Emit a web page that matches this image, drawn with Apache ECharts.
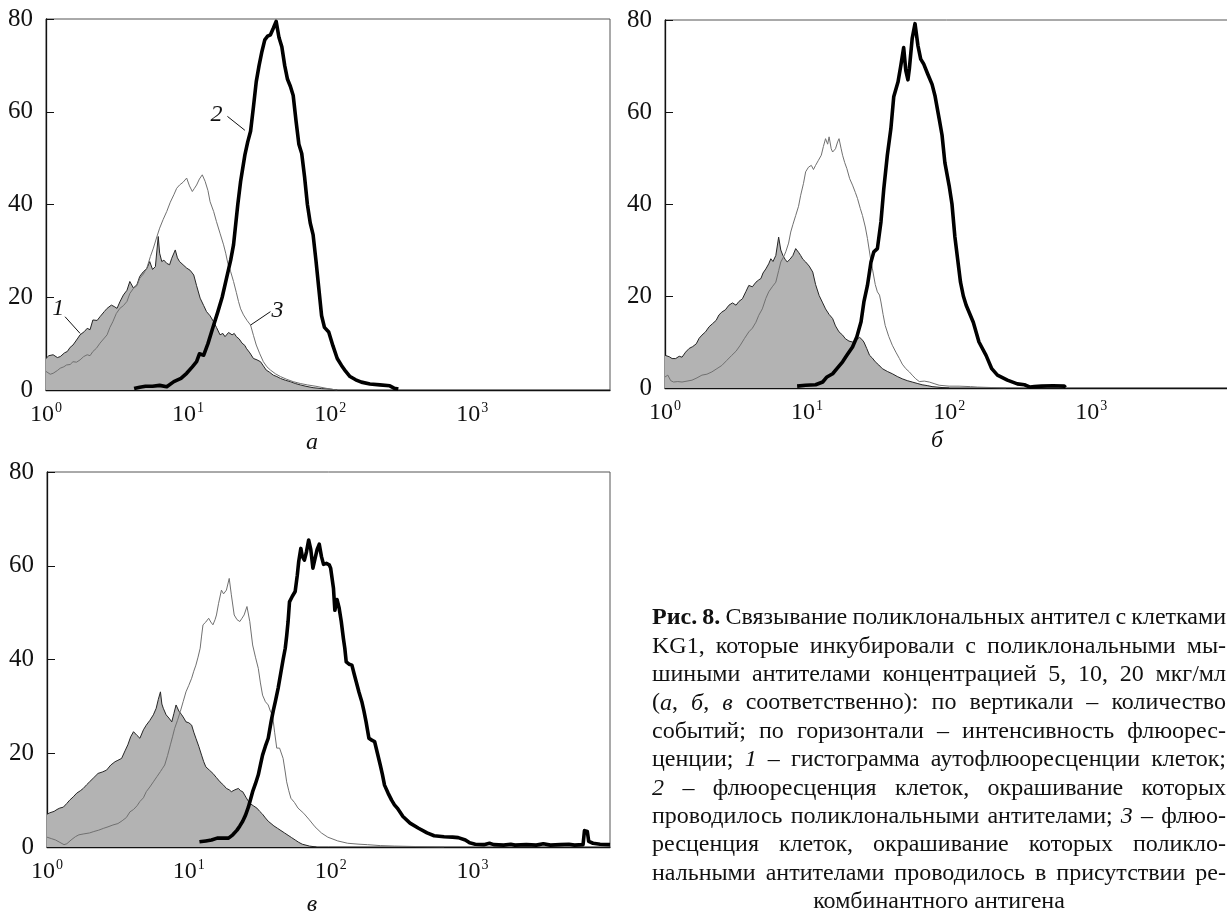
<!DOCTYPE html>
<html><head><meta charset="utf-8">
<script src="https://cdn.jsdelivr.net/npm/echarts/dist/echarts.min.js"></script>
<style>html,body{margin:0;padding:0;background:#fff;}#c{width:1227px;height:914px;}</style>
</head><body><div id="c"></div>
<script>
// x = log10(fluorescence intensity), y = number of events
const aAuto = [[0.00,6.8],[0.02,7.4],[0.05,7.6],[0.08,7.0],[0.10,7.2],[0.13,8.0],[0.15,8.3],[0.17,9.2],[0.19,9.7],[0.22,11.0],[0.24,11.9],[0.27,12.6],[0.29,13.3],[0.31,13.0],[0.33,15.1],[0.36,15.0],[0.38,15.8],[0.41,16.9],[0.43,17.6],[0.46,18.3],[0.48,18.0],[0.50,17.6],[0.52,19.0],[0.545,20.5],[0.57,21.5],[0.59,23.4],[0.615,22.0],[0.64,22.7],[0.66,24.5],[0.685,25.5],[0.71,26.2],[0.73,27.7],[0.75,26.0],[0.77,26.6],[0.79,33.1],[0.80,29.5],[0.815,27.7],[0.83,28.0],[0.85,27.3],[0.87,27.0],[0.885,28.4],[0.91,30.2],[0.925,28.5],[0.94,27.7],[0.965,27.0],[0.99,26.3],[1.015,25.8],[1.04,24.8],[1.06,22.5],[1.085,19.8],[1.11,18.2],[1.13,16.9],[1.155,16.0],[1.18,14.7],[1.20,13.5],[1.225,11.9],[1.245,12.2],[1.26,11.5],[1.285,12.4],[1.31,11.9],[1.325,12.2],[1.34,11.5],[1.36,11.0],[1.38,10.1],[1.40,9.6],[1.41,9.0],[1.435,8.0],[1.46,6.8],[1.485,6.5],[1.51,6.1],[1.53,5.2],[1.55,4.3],[1.575,3.8],[1.60,3.2],[1.625,2.9],[1.65,2.5],[1.685,2.1],[1.72,1.8],[1.755,1.4],[1.79,1.1],[1.83,0.8],[1.88,0.5],[1.94,0.3],[2.00,0.2],[2.05,0]];
const aStain = [[0.62,0.3],[0.66,0.6],[0.70,0.8],[0.75,0.8],[0.80,1.0],[0.85,0.7],[0.90,1.8],[0.95,2.5],[0.99,3.6],[1.03,5.0],[1.06,6.1],[1.08,7.8],[1.11,7.5],[1.14,10.0],[1.17,13.0],[1.21,16.9],[1.24,20.0],[1.27,24.0],[1.30,28.0],[1.32,31.3],[1.35,40.0],[1.37,45.0],[1.40,50.7],[1.42,53.5],[1.44,55.8],[1.46,61.0],[1.48,66.5],[1.50,70.0],[1.52,73.0],[1.54,75.5],[1.56,76.3],[1.58,76.6],[1.60,78.0],[1.62,79.5],[1.64,76.0],[1.66,74.0],[1.68,70.0],[1.70,67.0],[1.72,65.5],[1.74,63.5],[1.76,58.0],[1.78,53.0],[1.80,51.0],[1.82,46.0],[1.84,40.0],[1.86,36.0],[1.88,33.5],[1.90,28.0],[1.92,22.0],[1.94,16.0],[1.96,13.5],[1.99,12.5],[2.02,9.5],[2.05,6.8],[2.08,5.3],[2.11,4.0],[2.14,2.9],[2.18,2.2],[2.22,1.7],[2.28,1.3],[2.35,1.1],[2.42,0.9],[2.45,0.4],[2.48,0.2]];
const aAnti = [[0.00,4.0],[0.03,3.4],[0.05,3.6],[0.08,4.2],[0.10,4.7],[0.125,5.0],[0.145,5.4],[0.17,5.5],[0.19,6.1],[0.215,6.0],[0.24,6.5],[0.265,7.2],[0.29,7.6],[0.31,7.4],[0.33,8.3],[0.355,9.0],[0.38,10.1],[0.405,11.0],[0.43,11.9],[0.45,13.5],[0.47,14.7],[0.495,16.5],[0.52,17.6],[0.545,18.2],[0.57,19.1],[0.59,20.8],[0.615,21.9],[0.64,22.5],[0.66,24.1],[0.685,25.0],[0.71,26.3],[0.735,28.8],[0.756,30.6],[0.78,33.0],[0.80,34.9],[0.825,36.8],[0.85,38.5],[0.875,40.5],[0.90,42.1],[0.92,43.5],[0.94,44.2],[0.965,44.8],[0.99,45.7],[1.01,44.0],[1.03,42.8],[1.045,43.5],[1.06,44.2],[1.08,45.5],[1.10,46.4],[1.12,45.0],[1.14,43.0],[1.155,40.6],[1.18,38.5],[1.20,36.3],[1.225,33.8],[1.25,31.3],[1.265,29.5],[1.28,27.3],[1.30,25.5],[1.32,23.4],[1.34,21.0],[1.355,19.1],[1.37,17.5],[1.39,16.2],[1.415,15.0],[1.44,14.0],[1.46,11.8],[1.48,9.7],[1.505,7.8],[1.53,6.1],[1.555,5.0],[1.58,4.3],[1.615,3.5],[1.65,2.9],[1.695,2.3],[1.74,1.8],[1.79,1.4],[1.84,1.1],[1.90,0.8],[1.95,0.5],[2.00,0.2],[2.05,0]];

const bAuto = [[0.00,7.1],[0.03,6.8],[0.05,6.4],[0.075,6.4],[0.10,6.9],[0.12,6.7],[0.145,7.8],[0.17,8.6],[0.195,9.0],[0.22,9.6],[0.24,10.8],[0.26,11.5],[0.285,12.2],[0.31,13.3],[0.335,14.0],[0.36,14.7],[0.38,15.9],[0.40,16.5],[0.425,17.0],[0.45,18.0],[0.475,18.5],[0.50,18.0],[0.52,18.8],[0.545,19.4],[0.57,21.0],[0.59,22.3],[0.615,22.0],[0.64,23.0],[0.66,23.5],[0.675,23.8],[0.69,25.0],[0.71,25.9],[0.73,27.0],[0.745,28.1],[0.76,27.5],[0.78,28.8],[0.80,32.8],[0.815,30.0],[0.83,28.8],[0.845,28.0],[0.86,27.4],[0.88,28.0],[0.90,28.8],[0.92,30.3],[0.94,29.5],[0.955,28.8],[0.97,28.0],[0.99,27.4],[1.015,26.5],[1.04,25.2],[1.06,22.5],[1.085,20.1],[1.11,18.5],[1.13,17.2],[1.155,16.0],[1.18,15.1],[1.20,13.5],[1.225,12.2],[1.25,11.5],[1.27,10.7],[1.295,10.2],[1.32,10.0],[1.345,10.5],[1.37,11.0],[1.385,10.6],[1.40,10.0],[1.42,8.6],[1.44,7.1],[1.46,6.5],[1.48,5.7],[1.505,5.0],[1.53,4.2],[1.565,3.6],[1.60,3.1],[1.635,2.5],[1.67,2.0],[1.705,1.6],[1.74,1.3],[1.775,1.0],[1.81,0.7],[1.85,0.5],[1.88,0.3],[1.95,0.1],[2.00,0]];
const bStain = [[0.93,0.4],[0.99,0.6],[1.06,0.7],[1.11,1.3],[1.14,2.4],[1.18,3.1],[1.21,4.2],[1.25,5.7],[1.28,7.1],[1.32,8.9],[1.35,11.1],[1.38,14.4],[1.40,18.7],[1.425,22.3],[1.45,27.4],[1.47,29.6],[1.495,30.3],[1.52,36.1],[1.54,43.3],[1.565,50.6],[1.59,56.4],[1.61,63.3],[1.64,66.5],[1.66,70.1],[1.68,74.0],[1.695,69.0],[1.71,67.0],[1.72,69.4],[1.74,76.0],[1.76,79.2],[1.78,74.5],[1.80,71.5],[1.82,70.5],[1.85,68.2],[1.88,66.0],[1.90,63.6],[1.93,58.5],[1.95,55.0],[1.97,49.0],[2.00,44.0],[2.02,40.0],[2.04,33.0],[2.06,28.0],[2.08,23.0],[2.10,20.0],[2.12,18.0],[2.17,14.3],[2.21,10.0],[2.26,7.1],[2.30,4.2],[2.34,2.8],[2.41,1.7],[2.48,0.9],[2.53,0.7],[2.57,0.2],[2.60,0.3],[2.65,0.4],[2.73,0.5],[2.81,0.4],[2.82,0.1]];
const bAnti = [[0.00,2.4],[0.02,2.8],[0.04,1.6],[0.06,1.3],[0.09,1.4],[0.12,1.3],[0.155,1.5],[0.19,1.7],[0.225,2.2],[0.26,2.8],[0.295,3.0],[0.33,3.5],[0.365,4.2],[0.40,4.9],[0.435,6.0],[0.47,7.1],[0.50,8.0],[0.53,9.3],[0.56,10.8],[0.59,12.2],[0.615,13.0],[0.64,14.3],[0.66,15.8],[0.685,17.2],[0.71,19.5],[0.73,20.9],[0.755,22.0],[0.78,23.0],[0.80,25.5],[0.815,27.4],[0.835,28.5],[0.85,29.6],[0.87,31.5],[0.885,33.9],[0.90,35.5],[0.92,37.5],[0.94,39.5],[0.955,41.9],[0.975,44.5],[0.99,47.0],[1.01,48.0],[1.03,48.4],[1.045,47.5],[1.06,48.4],[1.08,49.5],[1.10,50.6],[1.115,52.5],[1.13,54.2],[1.145,53.0],[1.155,54.6],[1.17,52.0],[1.18,51.3],[1.20,52.0],[1.215,53.5],[1.225,54.2],[1.24,52.0],[1.25,50.6],[1.265,49.0],[1.28,47.7],[1.30,45.5],[1.32,44.1],[1.34,42.5],[1.355,41.2],[1.375,39.0],[1.39,37.5],[1.41,35.0],[1.425,32.5],[1.445,28.5],[1.46,25.9],[1.48,22.5],[1.495,20.9],[1.51,20.2],[1.52,18.7],[1.535,16.0],[1.55,13.6],[1.575,11.2],[1.60,9.3],[1.625,7.8],[1.65,6.4],[1.67,5.2],[1.695,4.2],[1.72,3.5],[1.74,2.8],[1.765,2.0],[1.79,1.4],[1.825,1.5],[1.86,1.3],[1.90,0.9],[1.93,0.6],[2.00,0.4],[2.07,0.4],[2.15,0.3],[2.20,0.2],[2.30,0.1],[2.40,0]];

const cAuto = [[0.00,7.0],[0.02,7.3],[0.05,7.6],[0.07,8.0],[0.09,8.3],[0.115,8.5],[0.14,9.3],[0.16,10.0],[0.185,10.7],[0.21,11.5],[0.235,12.0],[0.256,12.5],[0.28,13.3],[0.30,13.9],[0.33,14.8],[0.36,15.7],[0.39,16.0],[0.42,16.4],[0.45,17.5],[0.48,18.2],[0.50,18.5],[0.526,18.9],[0.55,20.5],[0.57,21.8],[0.59,23.5],[0.61,24.6],[0.635,23.8],[0.655,23.2],[0.68,25.0],[0.70,26.0],[0.725,27.0],[0.75,28.2],[0.77,29.6],[0.785,31.5],[0.80,33.1],[0.81,30.5],[0.82,29.6],[0.84,28.2],[0.86,27.5],[0.88,26.7],[0.895,28.5],[0.91,30.3],[0.93,29.0],[0.95,28.2],[0.965,27.5],[0.98,26.7],[1.00,26.5],[1.02,26.0],[1.035,24.5],[1.05,23.2],[1.07,21.5],[1.09,19.6],[1.105,18.2],[1.12,17.1],[1.145,16.4],[1.17,15.7],[1.195,14.8],[1.22,13.9],[1.245,13.2],[1.265,12.5],[1.285,12.2],[1.30,11.8],[1.325,12.2],[1.35,12.5],[1.365,12.0],[1.38,11.8],[1.405,10.5],[1.43,9.3],[1.455,8.8],[1.48,8.3],[1.50,7.6],[1.52,7.0],[1.54,6.2],[1.56,5.5],[1.58,5.0],[1.60,4.5],[1.625,4.0],[1.65,3.5],[1.675,3.0],[1.70,2.5],[1.725,2.0],[1.75,1.5],[1.775,1.0],[1.80,0.6],[1.85,0.2],[1.90,0]];
const cStain = [[1.075,1.1],[1.12,1.3],[1.16,1.5],[1.20,1.9],[1.24,1.9],[1.28,1.9],[1.31,2.6],[1.34,3.6],[1.36,4.5],[1.38,5.5],[1.40,6.8],[1.42,8.5],[1.45,11.8],[1.47,13.5],[1.49,15.4],[1.505,17.5],[1.52,19.6],[1.54,21.5],[1.56,23.2],[1.58,26.7],[1.595,29.0],[1.61,31.0],[1.63,33.9],[1.65,37.4],[1.665,40.0],[1.68,42.4],[1.69,45.0],[1.70,48.1],[1.71,52.3],[1.73,53.5],[1.75,54.5],[1.765,58.0],[1.775,60.9],[1.79,63.7],[1.80,62.0],[1.815,61.2],[1.83,63.0],[1.845,65.5],[1.86,63.5],[1.875,59.5],[1.89,61.5],[1.905,63.5],[1.92,64.6],[1.935,62.0],[1.95,60.3],[1.97,60.5],[1.99,60.2],[2.00,59.5],[2.02,55.2],[2.03,50.5],[2.045,52.8],[2.06,51.0],[2.075,48.1],[2.09,44.5],[2.10,42.4],[2.11,39.5],[2.13,39.0],[2.15,38.8],[2.165,37.0],[2.18,35.3],[2.20,33.0],[2.22,31.0],[2.235,29.0],[2.25,26.7],[2.27,23.2],[2.29,22.8],[2.31,22.5],[2.33,20.0],[2.35,17.5],[2.365,15.5],[2.38,13.2],[2.405,11.5],[2.43,10.0],[2.45,9.0],[2.47,8.3],[2.51,6.5],[2.56,5.1],[2.62,4.0],[2.68,3.0],[2.73,2.4],[2.80,2.2],[2.86,2.1],[2.90,2.0],[2.95,1.5],[2.98,0.9],[3.02,0.6],[3.08,0.5],[3.12,0.8],[3.15,0.5],[3.22,0.4],[3.27,0.6],[3.30,0.4],[3.38,0.5],[3.45,0.4],[3.50,0.7],[3.55,0.4],[3.62,0.5],[3.68,0.6],[3.72,0.4],[3.78,0.5],[3.79,3.5],[3.81,3.3],[3.82,1.2],[3.85,0.8],[3.90,0.6],[3.97,0.5]];
const cAnti = [[0.00,2.1],[0.03,1.8],[0.06,1.5],[0.09,1.0],[0.12,0.5],[0.14,0.7],[0.17,1.5],[0.20,2.2],[0.225,2.6],[0.26,2.8],[0.30,3.0],[0.33,3.3],[0.365,3.6],[0.40,4.0],[0.43,4.3],[0.465,4.7],[0.50,5.0],[0.53,5.6],[0.56,6.3],[0.585,7.5],[0.61,8.0],[0.635,8.8],[0.655,9.7],[0.68,10.5],[0.70,11.8],[0.725,12.8],[0.75,13.9],[0.775,15.0],[0.80,16.1],[0.815,16.8],[0.83,17.5],[0.85,19.5],[0.87,21.8],[0.885,23.5],[0.90,25.3],[0.92,27.0],[0.94,28.9],[0.96,31.0],[0.98,33.1],[1.00,34.5],[1.02,36.0],[1.035,37.5],[1.05,38.8],[1.065,40.5],[1.08,42.4],[1.09,45.0],[1.10,47.4],[1.12,48.0],[1.14,48.8],[1.155,48.0],[1.17,47.4],[1.185,48.5],[1.195,49.5],[1.21,52.0],[1.23,54.8],[1.245,54.0],[1.265,54.8],[1.285,57.3],[1.30,53.8],[1.32,49.5],[1.34,48.5],[1.36,48.1],[1.375,48.8],[1.39,49.5],[1.41,51.3],[1.43,48.1],[1.45,43.1],[1.47,40.5],[1.49,38.1],[1.505,35.0],[1.52,32.4],[1.54,31.0],[1.56,30.3],[1.575,29.0],[1.59,28.2],[1.605,24.5],[1.62,21.1],[1.64,21.1],[1.665,18.9],[1.68,16.0],[1.69,13.9],[1.705,12.0],[1.72,10.4],[1.745,9.5],[1.77,8.3],[1.81,7.2],[1.85,5.8],[1.89,4.3],[1.935,3.0],[1.98,2.1],[2.05,1.3],[2.12,0.8],[2.20,0.6],[2.26,0.5],[2.35,0.3],[2.45,0.2],[2.60,0.1],[2.80,0]];

const yTicks = [0, 20, 40, 60, 80];
const xDecades = [0, 1, 2, 3];
const panelLetters = ['а', 'б', 'в'];
// annotations in panel а: label position, leader from, leader to (log10 x, count)
const annotA = [
  {t:'1', at:[0.087,17.6], from:[0.134,15.8], to:[0.24,12.2]},
  {t:'2', at:[1.20,59.3], from:[1.277,59.0], to:[1.40,56.0]},
  {t:'3', at:[1.63,17.2], from:[1.58,16.9], to:[1.44,14.0]}
];
// caption lines: words, each word = list of [text, style] pieces (n normal, b bold, i italic)
const caption = [
  [[['Рис.','b']],[['8.','b']],[['Связывание','n']],[['поликлональных','n']],[['антител','n']],[['с','n']],[['клетками','n']]],
  [[['KG1,','n']],[['которые','n']],[['инкубировали','n']],[['с','n']],[['поликлональными','n']],[['мы-','n']]],
  [[['шиными','n']],[['антителами','n']],[['концентрацией','n']],[['5,','n']],[['10,','n']],[['20','n']],[['мкг/мл','n']]],
  [[['(','n'],['а','i'],[',','n']],[['б','i'],[',','n']],[['в','i']],[['соответственно):','n']],[['по','n']],[['вертикали','n']],[['–','n']],[['количество','n']]],
  [[['событий;','n']],[['по','n']],[['горизонтали','n']],[['–','n']],[['интенсивность','n']],[['флюорес-','n']]],
  [[['ценции;','n']],[['1','i']],[['–','n']],[['гистограмма','n']],[['аутофлюоресценции','n']],[['клеток;','n']]],
  [[['2','i']],[['–','n']],[['флюоресценция','n']],[['клеток,','n']],[['окрашивание','n']],[['которых','n']]],
  [[['проводилось','n']],[['поликлональными','n']],[['антителами;','n']],[['3','i']],[['–','n']],[['флюо-','n']]],
  [[['ресценция','n']],[['клеток,','n']],[['окрашивание','n']],[['которых','n']],[['поликло-','n']]],
  [[['нальными','n']],[['антителами','n']],[['проводилось','n']],[['в','n']],[['присутствии','n']],[['ре-','n']]],
  [[['комбинантного','n']],[['антигена','n']]]
];

const FONT = "'Liberation Serif','Times New Roman',serif";
const toXY = arr => arr.map(p => [Math.pow(10, p[0]), p[1]]);
const XMAX = Math.pow(10, 3.97);

const grids = [
  {left:46, top:19, width:564, height:371},
  {left:665, top:20, width:564, height:368},
  {left:47, top:472, width:563, height:375}
];
const sets = [[aAuto, aStain, aAnti], [bAuto, bStain, bAnti], [cAuto, cStain, cAnti]];

const option = {
  animation: false,
  backgroundColor: '#fff',
  grid: grids.map(g => Object.assign({show:true, borderColor:'#555', borderWidth:1, backgroundColor:'transparent', containLabel:false, outerBoundsMode:'none'}, g)),
  xAxis: grids.map((g, i) => ({
    type:'log', logBase:10, gridIndex:i, min:1, max:XMAX,
    axisLine:{show:true, onZero:false, lineStyle:{color:'#111', width:1.3}},
    axisTick:{show:false}, minorTick:{show:false}, splitLine:{show:false},
    axisLabel:{
      margin:11, showMaxLabel:false,
      formatter: v => {
        const l = Math.log10(v), e = Math.round(l);
        if (Math.abs(l - e) > 1e-6 || xDecades.indexOf(e) < 0) return '';
        return '{b|10}{s|' + e + '}';
      },
      rich:{
        b:{fontFamily:FONT, fontSize:24, color:'#111', verticalAlign:'bottom', lineHeight:26},
        s:{fontFamily:FONT, fontSize:14, color:'#111', verticalAlign:'top', lineHeight:14, padding:[0,0,0,1]}
      }
    }
  })),
  yAxis: grids.map((g, i) => ({
    type:'value', gridIndex:i, min:yTicks[0], max:yTicks[yTicks.length-1], interval:yTicks[1]-yTicks[0],
    axisLine:{show:true, lineStyle:{color:'#111', width:1.3}},
    axisTick:{show:true, inside:true, length:8, lineStyle:{color:'#111', width:1}},
    splitLine:{show:false},
    axisLabel:{fontFamily:FONT, fontSize:25, color:'#111', margin:13}
  })),
  series: []
};
sets.forEach((s, i) => {
  option.series.push({type:'line', xAxisIndex:i, yAxisIndex:i, data:toXY(s[0]), symbol:'none', z:2,
    lineStyle:{color:'#262626', width:1}, areaStyle:{color:'#b3b3b3', opacity:1}});
  option.series.push({type:'line', xAxisIndex:i, yAxisIndex:i, data:toXY(s[2]), symbol:'none', z:3,
    lineStyle:{color:'#707070', width:1}});
  option.series.push({type:'line', xAxisIndex:i, yAxisIndex:i, data:toXY(s[1]), symbol:'none', z:4,
    lineStyle:{color:'#000', width:3.6, join:'round'}});
});

const chart = echarts.init(document.getElementById('c'), null, {renderer:'canvas'});
chart.setOption(option);

// overlay texts
const graphics = [];
const pt = (gi, p) => chart.convertToPixel({gridIndex:gi}, [Math.pow(10, p[0]), p[1]]);
annotA.forEach(a => {
  const c = pt(0, a.at), f = pt(0, a.from), t = pt(0, a.to);
  graphics.push({type:'text', x:c[0], y:c[1], z:10, style:{text:a.t, font:"italic 24px " + FONT, fill:'#111', align:'center', verticalAlign:'middle'}});
  graphics.push({type:'line', z:10, shape:{x1:f[0], y1:f[1], x2:t[0], y2:t[1]}, style:{stroke:'#111', lineWidth:1}});
});
const letterPos = [[312, 443], [937, 441], [312, 905]];
panelLetters.forEach((L, i) => {
  graphics.push({type:'text', x:letterPos[i][0], y:letterPos[i][1], style:{text:L, font:"italic 24px " + FONT, fill:'#111', align:'center', verticalAlign:'middle'}});
});

// justified caption
const CAP_SIZE = 24, CAP_LEFT = 652, CAP_RIGHT = 1226, CAP_TOP = 618, CAP_LH = 28.4;
const fonts = {n: CAP_SIZE + "px " + FONT, b: "bold " + CAP_SIZE + "px " + FONT, i: "italic " + CAP_SIZE + "px " + FONT};
const mctx = document.createElement('canvas').getContext('2d');
const mw = (t, st) => { mctx.font = fonts[st]; return mctx.measureText(t).width; };
caption.forEach((line, li) => {
  const y = CAP_TOP + li * CAP_LH;
  const widths = line.map(w => w.reduce((s, p) => s + mw(p[0], p[1]), 0));
  const total = widths.reduce((a, b) => a + b, 0);
  const last = li === caption.length - 1;
  const spaceW = mw(' ', 'n');
  let gap, x;
  if (last) { gap = spaceW; x = (CAP_LEFT + CAP_RIGHT) / 2 - (total + gap * (line.length - 1)) / 2; }
  else { gap = (CAP_RIGHT - CAP_LEFT - total) / (line.length - 1); x = CAP_LEFT; }
  line.forEach((w, wi) => {
    let px = x;
    w.forEach(p => {
      graphics.push({type:'text', x:px, y:y, style:{text:p[0], font:fonts[p[1]], fill:'#111', align:'left', verticalAlign:'middle'}});
      px += mw(p[0], p[1]);
    });
    x += widths[wi] + gap;
  });
});
chart.setOption({graphic: graphics});
</script></body></html>
